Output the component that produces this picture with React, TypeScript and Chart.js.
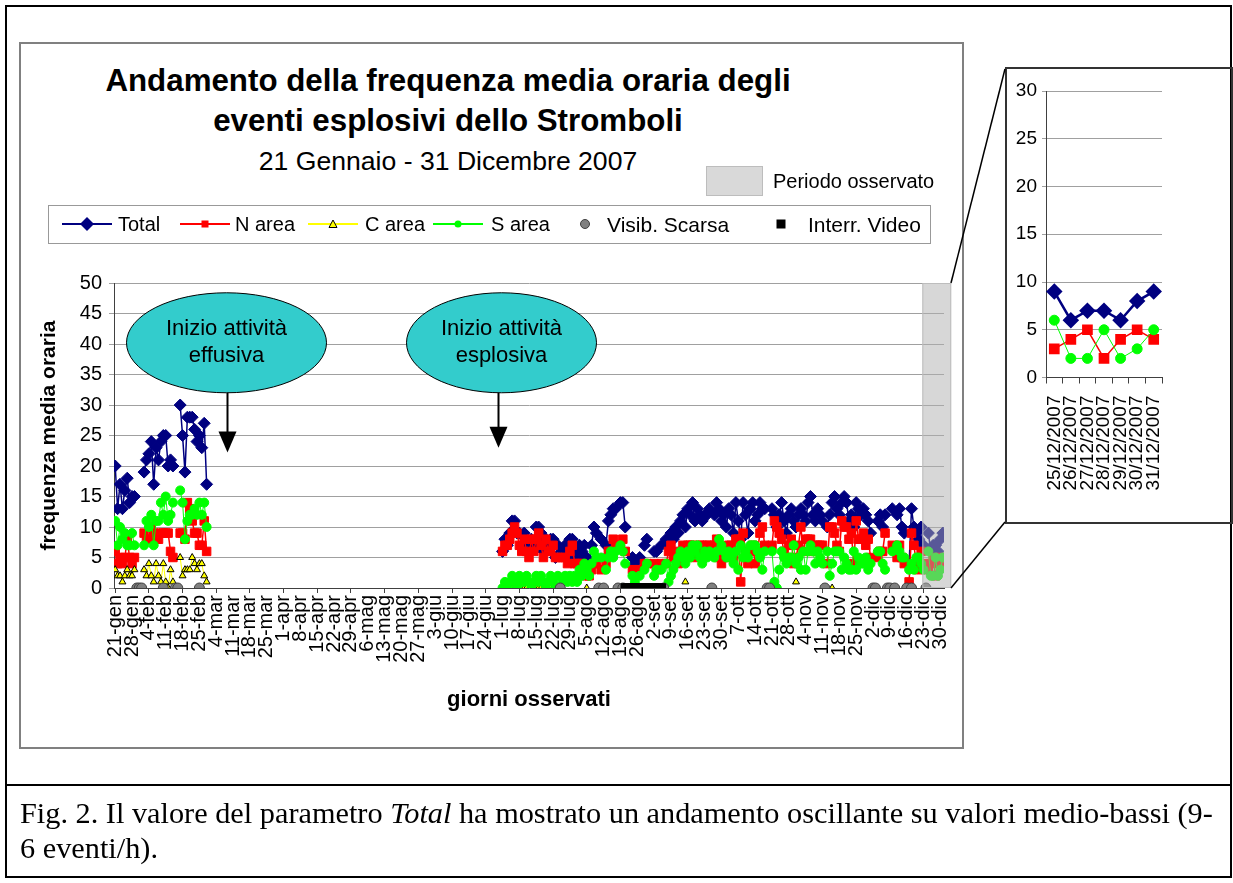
import React, { useEffect, useRef } from 'react';
import { Chart, registerables } from 'chart.js';

Chart.register(...registerables);
if (typeof document !== 'undefined') document.body.style.margin = '0';

const _ = null;
const FONT = "'Liberation Sans', Arial, sans-serif";

// ---------------- DATA ----------------
const tickLabels = ['21-gen','28-gen','4-feb','11-feb','18-feb','25-feb','4-mar','11-mar','18-mar','25-mar','1-apr','8-apr','15-apr','22-apr','29-apr','6-mag','13-mag','20-mag','27-mag','3-giu','10-giu','17-giu','24-giu','1-lug','8-lug','15-lug','22-lug','29-lug','5-ago','12-ago','19-ago','26-ago','2-set','9-set','16-set','23-set','30-set','7-ott','14-ott','21-ott','28-ott','4-nov','11-nov','18-nov','25-nov','2-dic','9-dic','16-dic','23-dic','30-dic'];

// 21 gen - 28 feb (39 days)
const janFebTotal = [20,13,17,13,16,18,14,15,15,_,_,_,19,21,22,24,17,23,21,24,25,25,20,21,20,_,_,30,25,19,28,28,28,26,24,25,23,27,17];
const janFebN     = [6,4,5,4,5,8,5,4,5,_,_,_,9,8,8,10,9,8,8,9,9,9,9,6,5,_,_,9,9,8,14,13,11,9,9,7,7,11,6];
const janFebC     = [3,2,2,1,2,3,2,2,3,_,_,_,3,2,4,2,1,4,2,1,4,1,0,3,1,_,_,5,2,3,3,3,5,4,3,4,4,2,1];
const janFebS     = [11,7,10,8,9,7,7,9,7,_,_,_,7,11,10,12,7,11,11,14,12,15,11,12,14,_,_,16,14,8,11,12,12,13,12,14,12,14,10];

// 1 mar - 30 giu: not observed
const DAYS_NOT_OBSERVED = 122;

// 1 lug - 31 dic (184 days)
const julDecTotal = [
  6,8,7,9,11,11,9,9,7,9,
  8,6,8,7,10,10,9,6,8,7,
  8,8,5,7,_,6,7,5,8,8,
  6,5,7,6,7,5,4,7,10,9,
  _,8,_,7,11,12,13,13,_,14,
  14,10,_,_,5,4,_,5,_,7,
  8,_,_,6,6,_,7,_,8,7,
  9,8,10,9,11,12,10,13,12,14,
  11,13,12,11,12,12,13,_,12,14,
  13,11,12,10,13,12,9,14,11,8,
  14,12,9,13,14,11,12,14,13,13,
  _,_,13,12,10,12,14,11,9,12,
  13,11,10,12,13,12,11,14,15,12,
  11,13,12,11,_,10,12,14,15,13,
  12,14,15,14,11,12,10,14,13,12,
  13,12,11,9,_,_,11,12,10,12,
  _,_,13,_,12,13,10,9,_,4,
  13,10,9,8,10,7,_,9,6,7,
  7,6,8,9,
];
const julDecN = [
  6,7,7,8,9,10,9,7,6,8,
  6,5,8,6,8,9,7,5,8,6,
  6,7,5,5,_,5,5,4,6,7,
  4,4,4,4,3,2,2,3,4,4,
  _,3,_,4,6,6,8,7,_,7,
  8,6,_,_,3,3,_,3,_,4,
  4,_,_,4,3,_,4,_,4,6,
  7,5,6,4,5,7,5,7,7,7,
  5,6,7,7,6,7,7,_,7,8,
  5,4,6,5,7,7,5,8,8,1,
  9,6,4,6,7,4,6,9,10,7,
  _,_,7,11,10,9,8,6,5,7,
  8,4,5,7,10,6,8,8,8,6,
  7,7,7,7,_,4,10,10,9,7,
  6,11,10,10,8,9,4,11,8,8,
  9,7,8,5,_,_,5,6,6,9,
  _,_,7,_,5,7,5,4,_,1,
  9,7,4,3,6,4,_,3,4,5,
  2,4,5,4,
];
const julDecC = [
  _,_,_,0,0,0,0,0,0,0,
  0,_,_,0,0,0,0,0,0,0,
  0,0,0,_,_,_,_,_,_,_,
  _,_,_,_,_,0,_,_,_,_,
  _,_,_,_,_,_,_,_,_,_,
  _,_,_,_,_,_,_,_,_,_,
  _,_,_,_,_,_,_,_,_,_,
  _,_,_,_,_,_,1,_,_,_,
  _,_,_,_,_,_,_,_,_,_,
  _,_,_,_,_,_,_,_,_,_,
  _,_,_,_,_,_,_,_,_,_,
  _,_,_,_,_,_,_,_,_,_,
  _,_,1,_,_,_,_,_,_,_,
  _,_,_,_,_,_,_,0,_,_,
  _,_,_,_,_,_,_,_,_,_,
  _,_,_,_,_,_,_,_,_,_,
  _,_,_,_,_,_,_,_,_,_,
  _,_,_,_,_,_,_,_,_,_,
  _,_,_,_,
];
const julDecS = [
  0,1,0,1,2,1,0,2,1,1,
  2,1,0,1,2,1,2,1,0,1,
  2,1,0,2,_,1,2,1,2,1,
  2,1,3,2,4,3,2,4,6,5,
  _,5,_,3,5,6,5,6,_,7,
  6,4,_,_,2,1,_,2,_,3,
  4,_,_,2,3,_,3,_,4,1,
  2,3,4,5,6,5,4,6,5,7,
  6,7,5,4,6,5,6,_,5,6,
  8,7,6,5,6,5,4,6,3,7,
  5,6,5,7,7,7,6,5,3,6,
  _,_,6,1,0,3,6,5,4,5,
  5,7,4,5,3,6,3,6,7,6,
  4,6,5,4,_,6,2,4,6,6,
  6,3,5,4,3,3,6,3,5,4,
  4,5,3,4,_,_,6,6,4,3,
  _,_,6,_,7,6,5,5,_,3,
  4,3,5,5,4,3,_,6,2,2,
  5,2,3,5,
];

// day index (0 = 21 gen) of days with poor visibility / video interruption
const visibScarsaDays = [9,10,11,20,25,26,35,185,201,203,209,211,228,248,271,272,295,315,316,321,322,324,329,331,337];
const interrVideoDays = [212,213,214,215,216,217,218,219,220,221,222,223,224,225,226,227];

const insetLabels = ['25/12/2007','26/12/2007','27/12/2007','28/12/2007','29/12/2007','30/12/2007','31/12/2007'];

// observed period (shaded) in day index
const BAND_FROM = 335.5;
const BAND_TO = 347.5;

const callouts = [
  { day: 46.4, lines: ['Inizio attività', 'effusiva'], rx: 100, dx: -1, tip: 22.2 },
  { day: 159, lines: ['Inizio attività', 'esplosiva'], rx: 95, dx: 3, tip: 23 },
];
const CALLOUT_CENTER = 40.2;

// ---------------- BUILD ----------------
const gap = Array(DAYS_NOT_OBSERVED).fill(null);
const totalSeries = [...janFebTotal, ...gap, ...julDecTotal];
const nSeries = [...janFebN, ...gap, ...julDecN];
const cSeries = [...janFebC, ...gap, ...julDecC];
const sSeries = [...janFebS, ...gap, ...julDecS];
const toPts = (arr: (number | null)[]) => arr.map((v, i) => ({ x: i, y: v }));
const markPts = (days: number[]) => days.map((d) => ({ x: d, y: 0 }));

const bandPlugin = {
  id: 'band',
  afterDatasetsDraw(chart: any) {
    const { ctx, scales } = chart;
    const x = scales.x, y = scales.y;
    const x1 = x.getPixelForValue(BAND_FROM), x2 = x.getPixelForValue(BAND_TO);
    const y1 = y.getPixelForValue(50), y2 = y.getPixelForValue(0);
    ctx.save();
    ctx.fillStyle = 'rgba(176,176,176,0.5)';
    ctx.fillRect(x1, y1, x2 - x1, y2 - y1);
    ctx.strokeStyle = '#bdbdbd';
    ctx.lineWidth = 1;
    ctx.strokeRect(x1 + 0.5, y1 + 0.5, x2 - x1 - 1, y2 - y1 - 1);
    ctx.restore();
  },
};

const calloutPlugin = {
  id: 'callouts',
  afterDatasetsDraw(chart: any) {
    const { ctx, scales } = chart;
    const x = scales.x, y = scales.y;
    ctx.save();
    for (const c of callouts) {
      const ax = Math.round(x.getPixelForValue(c.day)) + 0.5;
      const cx = ax + c.dx;
      const cy = y.getPixelForValue(CALLOUT_CENTER);
      ctx.beginPath();
      ctx.ellipse(cx, cy, c.rx, 50, 0, 0, Math.PI * 2);
      ctx.fillStyle = '#33CCCC';
      ctx.fill();
      ctx.strokeStyle = '#000';
      ctx.lineWidth = 1;
      ctx.stroke();
      ctx.fillStyle = '#000';
      ctx.font = `22px ${FONT}`;
      ctx.textAlign = 'center';
      ctx.textBaseline = 'middle';
      ctx.fillText(c.lines[0], cx, cy - 14);
      ctx.fillText(c.lines[1], cx, cy + 13);
      const tipY = y.getPixelForValue(c.tip);
      ctx.beginPath();
      ctx.lineWidth = 2;
      ctx.moveTo(ax, cy + 50);
      ctx.lineTo(ax, tipY - 20);
      ctx.stroke();
      ctx.beginPath();
      ctx.moveTo(ax - 9, tipY - 21);
      ctx.lineTo(ax + 9, tipY - 21);
      ctx.lineTo(ax, tipY);
      ctx.closePath();
      ctx.fill();
    }
    ctx.restore();
  },
};

function MainChart() {
  const ref = useRef<HTMLCanvasElement>(null);
  useEffect(() => {
    const chart = new Chart(ref.current as HTMLCanvasElement, {
      type: 'line',
      data: {
        datasets: [
          { label: 'Total', data: toPts(totalSeries), borderColor: '#000080', backgroundColor: '#000080', borderWidth: 1.5, pointStyle: 'rectRot', pointRadius: 6, pointBorderWidth: 1, order: 6 },
          { label: 'N area', data: toPts(nSeries), borderColor: '#FF0000', backgroundColor: '#FF0000', borderWidth: 1.5, pointStyle: 'rect', pointRadius: 6, pointBorderWidth: 1, order: 5 },
          { label: 'C area', data: toPts(cSeries), borderColor: '#FFFF00', backgroundColor: '#FFFF00', pointBackgroundColor: '#FFFF00', pointBorderColor: '#000', borderWidth: 1, pointStyle: 'triangle', pointRadius: 4, pointBorderWidth: 1, order: 4 },
          { label: 'S area', data: toPts(sSeries), borderColor: '#00FF00', backgroundColor: '#00FF00', borderWidth: 1, pointStyle: 'circle', pointRadius: 4.5, pointBorderWidth: 1, order: 3 },
          { label: 'Visib. Scarsa', data: markPts(visibScarsaDays), showLine: false, borderColor: '#404040', backgroundColor: '#808080', pointStyle: 'circle', pointRadius: 5, pointBorderWidth: 1, order: 2 },
          { label: 'Interr. Video', data: markPts(interrVideoDays), showLine: false, borderColor: '#000', backgroundColor: '#000', pointStyle: 'rect', pointRadius: 6, pointBorderWidth: 1, order: 1 },
        ] as any,
      },
      options: {
        animation: false,
        responsive: false,
        maintainAspectRatio: false,
        spanGaps: false,
        layout: { padding: { left: 0, right: 17, top: 239, bottom: 0 } },
        elements: { line: { tension: 0 } },
        plugins: { legend: { display: false }, tooltip: { enabled: false }, title: { display: false } },
        scales: {
          x: {
            type: 'linear',
            min: -0.5,
            max: 344.5,
            afterBuildTicks: (s: any) => { s.ticks = tickLabels.map((_l, i) => ({ value: i * 7 })); },
            afterFit: (s: any) => { s.height = 158; s.paddingLeft = 0; s.paddingRight = 0; },
            ticks: {
              autoSkip: false, minRotation: 90, maxRotation: 90, padding: 2, color: '#000',
              font: { family: FONT, size: 20 },
              callback: (v: any) => tickLabels[Math.round(Number(v) / 7)],
            },
            grid: {
              drawOnChartArea: false, drawTicks: true, tickLength: 5,
              color: (ctx: any) => (ctx.tick && ctx.tick.value % 14 === 0 ? '#404040' : 'rgba(0,0,0,0)'),
            },
            border: { color: '#404040', width: 1 },
            title: { display: true, text: 'giorni osservati', color: '#000', font: { family: FONT, size: 22, weight: 'bold' }, padding: { top: 0, bottom: 33 } },
          },
          y: {
            min: 0,
            max: 50,
            afterFit: (s: any) => { s.width = 93; },
            ticks: { stepSize: 5, padding: 7, color: '#000', font: { family: FONT, size: 20 } },
            grid: { color: '#a0a0a0', tickLength: 5 },
            border: { color: '#404040' },
            title: { display: true, text: 'frequenza media oraria', color: '#000', font: { family: FONT, size: 21, weight: 'bold' }, padding: { top: 16, bottom: 0 } },
          },
        },
      } as any,
      plugins: [bandPlugin, calloutPlugin],
    });
    return () => chart.destroy();
  }, []);
  return <canvas ref={ref} width={940} height={702} style={{ position: 'absolute', left: 21, top: 44, width: 940, height: 702 }} />;
}

function InsetChart() {
  const ref = useRef<HTMLCanvasElement>(null);
  useEffect(() => {
    const n = insetLabels.length;
    const chart = new Chart(ref.current as HTMLCanvasElement, {
      type: 'line',
      data: {
        labels: insetLabels,
        datasets: [
          { label: 'Total', data: totalSeries.slice(-n), borderColor: '#000080', backgroundColor: '#000080', borderWidth: 2.5, pointStyle: 'rectRot', pointRadius: 6.5, order: 3 },
          { label: 'N area', data: nSeries.slice(-n), borderColor: '#FF0000', backgroundColor: '#FF0000', borderWidth: 1.5, pointStyle: 'rect', pointRadius: 6.5, order: 2 },
          { label: 'S area', data: sSeries.slice(-n), borderColor: '#00FF00', backgroundColor: '#00FF00', borderWidth: 1, pointStyle: 'circle', pointRadius: 5, order: 1 },
        ] as any,
      },
      options: {
        animation: false,
        responsive: false,
        maintainAspectRatio: false,
        layout: { padding: { left: 0, right: 69, top: 22, bottom: 0 } },
        elements: { line: { tension: 0 } },
        plugins: { legend: { display: false }, tooltip: { enabled: false } },
        scales: {
          x: {
            type: 'category',
            offset: true,
            afterFit: (s: any) => { s.height = 144.5; s.paddingLeft = 0; s.paddingRight = 0; },
            ticks: { autoSkip: false, minRotation: 90, maxRotation: 90, padding: 12, color: '#000', font: { family: FONT, size: 19 } },
            grid: { drawOnChartArea: false, offset: true, tickLength: 6, color: '#404040' },
            border: { color: '#404040' },
          },
          y: {
            min: 0,
            max: 30,
            afterFit: (s: any) => { s.width = 39; },
            ticks: { stepSize: 5, padding: 5, color: '#000', font: { family: FONT, size: 19 } },
            grid: { color: '#a0a0a0', tickLength: 4 },
            border: { color: '#404040' },
          },
        },
      } as any,
    });
    return () => chart.destroy();
  }, []);
  return <canvas ref={ref} width={224} height={453} style={{ position: 'absolute', left: 1007, top: 69, width: 224, height: 453 }} />;
}

function Overlay() {
  const ty = 224;
  const txt = { fontFamily: FONT, fontSize: 20, fill: '#000' } as any;
  return (
    <svg width={1233} height={883} style={{ position: 'absolute', left: 0, top: 0, pointerEvents: 'none' }}>
      {/* periodo osservato */}
      <rect x={706.5} y={166.5} width={56} height={29} fill="#d9d9d9" stroke="#bdbdbd" />
      <text x={773} y={181} dominantBaseline="central" style={{ ...txt, fontSize: 20 }}>Periodo osservato</text>
      {/* legend */}
      <rect x={48.5} y={205.5} width={882} height={38} fill="#fff" stroke="#999" />
      <line x1={62} y1={ty} x2={112} y2={ty} stroke="#000080" strokeWidth={2} />
      <polygon points={`87,${ty - 7} 94,${ty} 87,${ty + 7} 80,${ty}`} fill="#000080" />
      <text x={118} y={ty} dominantBaseline="central" style={txt}>Total</text>
      <line x1={180} y1={ty} x2={230} y2={ty} stroke="#FF0000" strokeWidth={2} />
      <rect x={201.5} y={ty - 3.5} width={7} height={7} fill="#FF0000" />
      <text x={235} y={ty} dominantBaseline="central" style={txt}>N area</text>
      <line x1={308} y1={ty} x2={358} y2={ty} stroke="#FFFF00" strokeWidth={2} />
      <polygon points={`333,${ty - 4} 337,${ty + 3.5} 329,${ty + 3.5}`} fill="#FFFF00" stroke="#000" strokeWidth={1} />
      <text x={365} y={ty} dominantBaseline="central" style={txt}>C area</text>
      <line x1={433} y1={ty} x2={483} y2={ty} stroke="#00FF00" strokeWidth={2} />
      <circle cx={458} cy={ty} r={3.5} fill="#00FF00" />
      <text x={491} y={ty} dominantBaseline="central" style={txt}>S area</text>
      <circle cx={585} cy={ty} r={4.5} fill="#808080" stroke="#404040" />
      <text x={607} y={ty} dominantBaseline="central" style={{ ...txt, fontSize: 21 }}>Visib. Scarsa</text>
      <rect x={776.5} y={ty - 4.5} width={9} height={9} fill="#000" />
      <text x={808} y={ty} dominantBaseline="central" style={{ ...txt, fontSize: 21 }}>Interr. Video</text>
      {/* connectors to inset */}
      <line x1={951} y1={283} x2={1005} y2={69} stroke="#000" strokeWidth={1.5} />
      <line x1={951} y1={588} x2={1005} y2={522} stroke="#000" strokeWidth={1.5} />
    </svg>
  );
}

export default function App() {
  return (
    <div style={{ position: 'relative', width: 1233, height: 883, background: '#fff', overflow: 'hidden' }}>
      {/* outer frame */}
      <div style={{ position: 'absolute', left: 5, top: 5, width: 1227, height: 873, border: '2px solid #000', boxSizing: 'border-box' }} />
      <div style={{ position: 'absolute', left: 5, top: 784, width: 1227, height: 2, background: '#000' }} />
      {/* chart box */}
      <div style={{ position: 'absolute', left: 19, top: 42, width: 945, height: 707, border: '2px solid #808080', boxSizing: 'border-box' }} />
      {/* inset box */}
      <div style={{ position: 'absolute', left: 1005, top: 67, width: 228, height: 457, border: '2px solid #333', boxSizing: 'border-box' }} />
      {/* title */}
      <div style={{ position: 'absolute', left: 20, top: 61, width: 856, textAlign: 'center', fontFamily: FONT, fontWeight: 'bold', fontSize: 31.3, lineHeight: '40px', color: '#000', whiteSpace: 'nowrap' }}>
        Andamento della frequenza media oraria degli<br />eventi esplosivi dello Stromboli
      </div>
      <div style={{ position: 'absolute', left: 20, top: 146, width: 856, textAlign: 'center', fontFamily: FONT, fontSize: 26.6, lineHeight: '30px', color: '#000', whiteSpace: 'nowrap' }}>
        21 Gennaio - 31 Dicembre 2007
      </div>
      <MainChart />
      <InsetChart />
      <Overlay />
      {/* caption */}
      <div style={{ position: 'absolute', left: 20, top: 796, fontFamily: "'Liberation Serif', 'Times New Roman', serif", fontSize: 30.3, lineHeight: '35px', color: '#000', whiteSpace: 'nowrap' }}>
        Fig. 2. Il valore del parametro <i>Total</i> ha mostrato un andamento oscillante su valori medio-bassi (9-<br />6 eventi/h).
      </div>
    </div>
  );
}
